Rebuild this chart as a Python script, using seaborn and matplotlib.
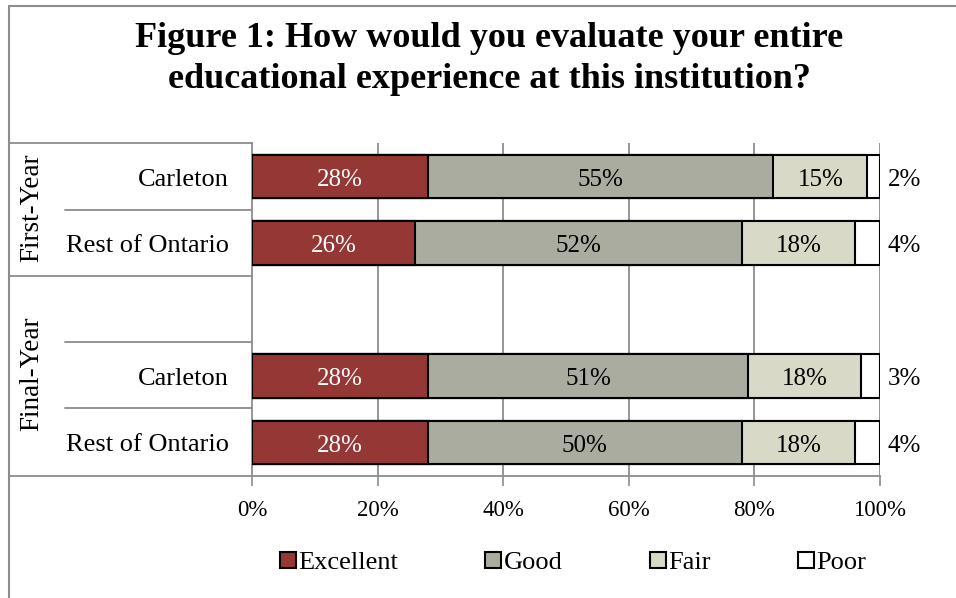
import matplotlib
matplotlib.use("Agg")
import matplotlib.pyplot as plt
from matplotlib.lines import Line2D
from matplotlib.patches import Patch
import seaborn as sns
import pandas as pd
import numpy as np

sns.set_theme(style="white")
plt.rcParams['font.family'] = ['Liberation Serif', 'DejaVu Serif']
plt.rcParams['text.color'] = 'black'
plt.rcParams['xtick.color'] = 'black'

# ---- data ----
row_ids = ["FY-Carleton", "FY-Rest", "gap", "LY-Carleton", "LY-Rest"]
row_labels = ["Carleton", "Rest of Ontario", "", "Carleton", "Rest of Ontario"]
groups = ["First-Year", "Final-Year"]
categories = ["Excellent", "Good", "Fair", "Poor"]
excellent = [28, 26, None, 28, 28]
good = [55, 52, None, 51, 50]
fair = [15, 18, None, 18, 18]
poor = [2, 4, None, 3, 4]
xticks = [0, 20, 40, 60, 80, 100]
xtick_labels = ["0%", "20%", "40%", "60%", "80%", "100%"]
colors = ["#953735", "#A9AC9F", "#D8D9C6", "#FFFFFF"]

W, H = 956, 598
fig = plt.figure(figsize=(W / 100, H / 100), dpi=100)
ax = fig.add_axes([252 / W, 1 - 476 / H, (880 - 252) / W, (476 - 143) / H])

rows = [i for i in range(len(row_ids)) if excellent[i] is not None]
df = pd.DataFrame({
    "row": [row_ids[i] for i in rows],
    "Excellent": [excellent[i] for i in rows],
    "Good": [good[i] for i in rows],
    "Fair": [fair[i] for i in rows],
    "Poor": [poor[i] for i in rows],
})
cum = df[categories].cumsum(axis=1)

# draw in reverse so each cumulative bar overlays the next
for cat, col in reversed(list(zip(categories, colors))):
    sns.barplot(data=df.assign(val=cum[cat]), x="val", y="row", order=row_ids,
                orient="h", color=col, saturation=1, width=0.65,
                edgecolor="black", linewidth=1.5, ax=ax, zorder=3)

ax.set_xlim(0, 100)
ax.set_ylim(4.5, -0.5)
ax.set_xticks(xticks)
ax.set_xticklabels(xtick_labels, fontsize=16.5, color="black")
ax.set_yticks([])
ax.set_xlabel("")
ax.set_ylabel("")
ax.tick_params(axis="x", length=7, width=1.2, color="#8c8c8c", labelcolor="black",
               direction="out", pad=10, bottom=True)
for g in xticks[1:]:
    ax.axvline(g, color="#8c8c8c", lw=1.3, zorder=1)
for s in ["top", "right"]:
    ax.spines[s].set_visible(False)
for s in ["left", "bottom"]:
    ax.spines[s].set_color("#8c8c8c")
    ax.spines[s].set_linewidth(1.3)

# data labels
dy = 0.05
for j, rid in enumerate(df["row"]):
    y = row_ids.index(rid) + dy
    start = 0
    for k, cat in enumerate(categories):
        v = df[cat].iloc[j]
        if cat == "Poor":
            ax.text(101.2, y, f"{v}%", ha="left", va="center", fontsize=18, color="black", clip_on=False)
        else:
            ax.text(start + v / 2, y, f"{v}%", ha="center", va="center", fontsize=18,
                    color="white" if cat == "Excellent" else "black", zorder=5)
        start += v

# table on left (figure pixel coordinates)
def hline(x0, x1, y):
    fig.add_artist(Line2D([x0 / W, x1 / W], [1 - y / H, 1 - y / H], color="#8c8c8c", lw=1.3))

hline(9, 252, 143)
hline(65, 252, 210)
hline(9, 252, 276)
hline(65, 252, 342)
hline(65, 252, 408)
hline(9, 252, 475.5)
# outer frame
fig.add_artist(Line2D([9 / W, 9 / W], [0, 1 - 6 / H], color="#8c8c8c", lw=1.5))
fig.add_artist(Line2D([9 / W, 1], [1 - 6 / H, 1 - 6 / H], color="#8c8c8c", lw=1.5))

row_y = [180, 246, 312, 379, 445]
for lab, yy in zip(row_labels, row_y):
    if lab:
        fig.text(229 / W, 1 - yy / H, lab, ha="right", va="center", fontsize=19)
fig.text(32 / W, 1 - 208 / H, groups[0], rotation=90, ha="center", va="center", fontsize=19.5)
fig.text(32 / W, 1 - 374 / H, groups[1], rotation=90, ha="center", va="center", fontsize=19.5)

# title
fig.text(489 / W, 1 - 59 / H, "Figure 1: How would you evaluate your entire\neducational experience at this institution?",
         ha="center", va="center", fontsize=26, fontweight="bold", linespacing=1.32)

# legend
handles = [Patch(facecolor=c, edgecolor="black", linewidth=1.5) for c in colors]
fig.legend(handles, categories, loc="center", bbox_to_anchor=(573 / W, 1 - 563 / H), ncol=4,
           frameon=False, fontsize=19, handlelength=0.6, handleheight=0.6, handletextpad=0.1,
           columnspacing=3.3)

fig.savefig("out.png", dpi=100)
